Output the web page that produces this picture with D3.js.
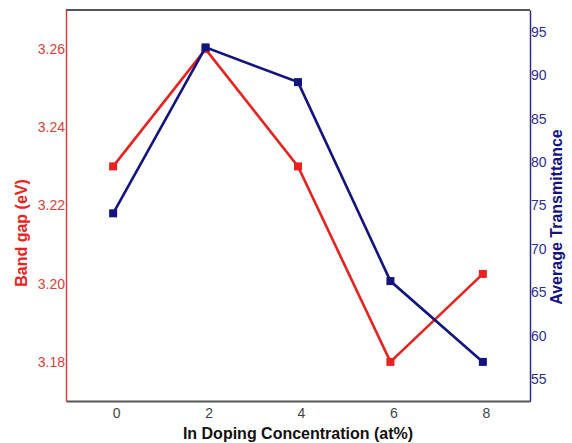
<!DOCTYPE html>
<html>
<head>
<meta charset="utf-8">
<script src="https://cdn.jsdelivr.net/npm/d3@7"></script>
<style>
  body { margin: 0; background: #fff; }
  svg { font-family: "Liberation Sans", Arial, sans-serif; }
</style>
</head>
<body>
<div class="chart"></div>
<script>
// values
var concentration = [0, 2, 4, 6, 8];
var bandGap = [3.230, 3.260, 3.230, 3.180, 3.2025];
var transmittance = [74.1, 93.2, 89.2, 66.3, 57.0];
var xTicks = [0, 2, 4, 6, 8];
var leftTicks = [3.18, 3.20, 3.22, 3.24, 3.26];
var rightTicks = [55, 60, 65, 70, 75, 80, 85, 90, 95];

var width = 572, height = 443;
var plot = {left: 66, right: 530, top: 10, bottom: 401};

var red = "#e8231f", navy = "#141480";
var redAxis = "#d9403c", navyAxis = "#2e2e8a";

var svg = d3.select(".chart").append("svg").attr("width", width).attr("height", height);

var x = d3.scaleLinear().domain([-1.02, 9.02]).range([plot.left, plot.right]);
var yL = d3.scaleLinear().domain([3.17, 3.27]).range([plot.bottom, plot.top]);
var yR = d3.scaleLinear().domain([52.5, 97.5]).range([plot.bottom, plot.top]);

// frame: top and bottom gray
svg.append("line").attr("x1", plot.left).attr("x2", plot.right).attr("y1", plot.top).attr("y2", plot.top)
    .attr("stroke", "#555").attr("stroke-width", 2);

// x axis
var xAxis = svg.append("g").attr("transform", "translate(0," + plot.bottom + ")")
    .call(d3.axisBottom(x).tickValues(xTicks).tickSize(0).tickPadding(7).tickFormat(d3.format("d")));
xAxis.select(".domain").attr("stroke", "#555").attr("stroke-width", 2);
xAxis.selectAll("text").attr("font-size", 14).attr("fill", "#444").style("font-family", "Liberation Sans, Arial, sans-serif")
    .attr("dx", 3);

// left axis
var lAxis = svg.append("g").attr("transform", "translate(" + plot.left + ",0)")
    .call(d3.axisLeft(yL).tickValues(leftTicks).tickSize(0).tickPadding(1).tickFormat(d3.format(".2f")));
lAxis.select(".domain").attr("stroke", redAxis).attr("stroke-width", 1.5);
lAxis.selectAll("text").attr("font-size", 14).attr("fill", redAxis).style("font-family", "Liberation Sans, Arial, sans-serif");

// right axis
var rAxis = svg.append("g").attr("transform", "translate(" + plot.right + ",0)")
    .call(d3.axisRight(yR).tickValues(rightTicks).tickSize(0).tickPadding(1));
rAxis.select(".domain").attr("stroke", navyAxis).attr("stroke-width", 1.5);
rAxis.selectAll("text").attr("font-size", 14).attr("fill", navyAxis).style("font-family", "Liberation Sans, Arial, sans-serif");

// axis titles
svg.append("text").attr("x", 298).attr("y", 439).attr("text-anchor", "middle")
    .attr("font-size", 16).attr("font-weight", "bold").attr("fill", "#111")
    .text("In Doping Concentration (at%)");
svg.append("text").attr("transform", "translate(27,233) rotate(-90)").attr("text-anchor", "middle")
    .attr("font-size", 16).attr("font-weight", "bold").attr("fill", red)
    .text("Band gap (eV)");
svg.append("text").attr("transform", "translate(562,217) rotate(-90)").attr("text-anchor", "middle")
    .attr("font-size", 16).attr("font-weight", "bold").attr("fill", navy)
    .text("Average Transmittance");

function drawSeries(values, y, color) {
    var pts = concentration.map(function(c, i) { return [c, values[i]]; });
    svg.append("path").datum(pts)
        .attr("fill", "none").attr("stroke", color).attr("stroke-width", 2.6)
        .attr("d", d3.line().x(function(d) { return x(d[0]); }).y(function(d) { return y(d[1]); }));
    svg.append("g").selectAll("rect").data(pts).enter().append("rect")
        .attr("x", function(d) { return x(d[0]) - 4; })
        .attr("y", function(d) { return y(d[1]) - 4; })
        .attr("width", 8).attr("height", 8).attr("fill", color);
}
drawSeries(bandGap, yL, red);
drawSeries(transmittance, yR, navy);
</script>
</body>
</html>
